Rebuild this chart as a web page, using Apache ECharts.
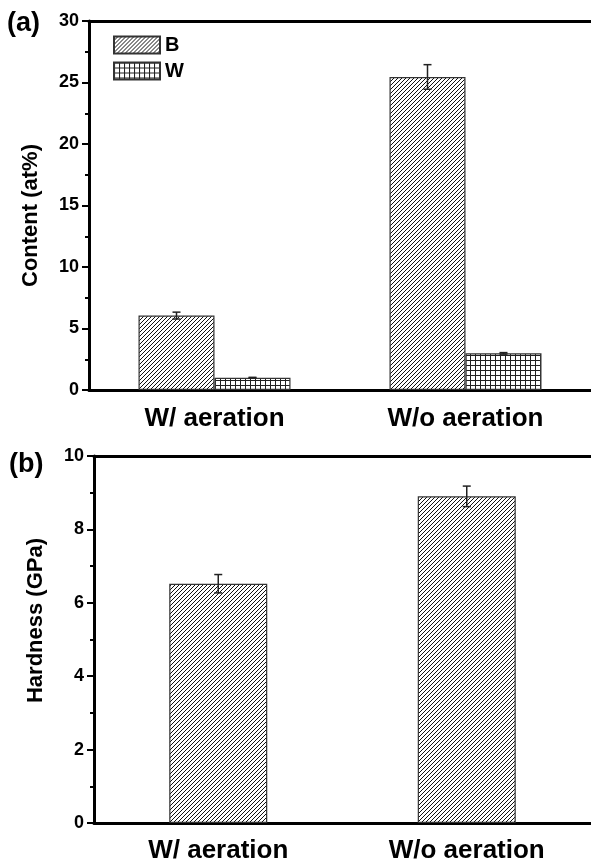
<!DOCTYPE html>
<html lang="en">
<head>
  <meta charset="UTF-8" />
  <title>Content and hardness</title>
  <script src="https://cdn.jsdelivr.net/npm/echarts@6/dist/echarts.min.js"></script>
  <style>
    html, body { margin: 0; padding: 0; background: #fff; }
    #main { width: 591px; height: 864px; }
  </style>
</head>
<body>
  <div id="main"></div>
  <script type="text/javascript">
    // data
    var categories = ['W/ aeration', 'W/o aeration']
    var contentB = [6.05, 25.45]
    var contentBErr = [0.28, 1.0]
    var contentW = [1.0, 2.98]
    var contentWErr = [0.03, 0.06]
    var hardness = [6.52, 8.9]
    var hardnessErr = [0.25, 0.28]
    // y axis ranges: [min, max, step]
    var contentAxis = [0, 30, 5]
    var hardnessAxis = [0, 10, 2]

    var font = 'Liberation Sans, Arial, sans-serif'
    var myChart = echarts.init(document.getElementById('main'))

    // diagonal hatching "/"
    function hatch(size) {
      var c = document.createElement('canvas')
      c.width = c.height = size
      var ctx = c.getContext('2d')
      ctx.fillStyle = '#fff'
      ctx.fillRect(0, 0, size, size)
      ctx.strokeStyle = '#111'
      ctx.lineWidth = 1
      ctx.beginPath()
      ctx.moveTo(-1, size + 1); ctx.lineTo(size + 1, -1)
      ctx.moveTo(-1, 1); ctx.lineTo(1, -1)
      ctx.moveTo(size - 1, size + 1); ctx.lineTo(size + 1, size - 1)
      ctx.stroke()
      return c
    }
    // square grid
    function squares(size) {
      var c = document.createElement('canvas')
      c.width = c.height = size
      var ctx = c.getContext('2d')
      ctx.fillStyle = '#fff'
      ctx.fillRect(0, 0, size, size)
      ctx.fillStyle = '#222'
      ctx.fillRect(0, 0, size, 1)
      ctx.fillRect(0, 0, 1, size)
      return c
    }

    function errorItem(offset) {
      return function (params, api) {
        var x = api.value(0), y = api.value(1), e = api.value(2)
        var hi = api.coord([x, y + e])
        var lo = api.coord([x, y - e])
        var cx = hi[0] + offset
        var st = { stroke: '#222', lineWidth: 1.5 }
        return {
          type: 'group',
          children: [
            { type: 'line', shape: { x1: cx, y1: hi[1], x2: cx, y2: lo[1] }, style: st },
            { type: 'line', shape: { x1: cx - 4, y1: hi[1], x2: cx + 4, y2: hi[1] }, style: st },
            { type: 'line', shape: { x1: cx - 4, y1: lo[1], x2: cx + 4, y2: lo[1] }, style: st }
          ]
        }
      }
    }
    function errData(vals, errs) {
      return vals.map(function (v, i) { return [i, v, errs[i]] })
    }

    var axisLine = { show: true, lineStyle: { color: '#000', width: 3 } }

    function bottomAxis(g, margin) {
      return {
        type: 'category', gridIndex: g, data: categories,
        axisLine: axisLine, axisTick: { show: false },
        axisLabel: { fontSize: 26, fontWeight: 'bold', color: '#000', margin: margin, fontFamily: font }
      }
    }
    function topAxis(g) {
      return {
        type: 'category', gridIndex: g, data: categories, position: 'top',
        axisLine: axisLine, axisTick: { show: false }, axisLabel: { show: false }
      }
    }
    function leftAxis(g, range, name, pad, minorSplit) {
      return {
        type: 'value', gridIndex: g, min: range[0], max: range[1], interval: range[2],
        name: name, nameLocation: 'middle', nameGap: 47, nameRotate: 90,
        nameTextStyle: { fontSize: 22, fontWeight: 'bold', color: '#000', fontFamily: font, padding: pad },
        axisLine: axisLine,
        axisTick: { show: true, length: 7, lineStyle: { color: '#000', width: 2 } },
        minorTick: { show: true, splitNumber: minorSplit, length: 4, lineStyle: { color: '#000', width: 2 } },
        splitLine: { show: false },
        axisLabel: { fontSize: 18, fontWeight: 'bold', color: '#000', margin: 10, fontFamily: font }
      }
    }

    var barStyleB = { color: { image: hatch(4), repeat: 'repeat' }, borderColor: '#333', borderWidth: 1.2 }
    var barStyleW = { color: { image: squares(5), repeat: 'repeat' }, borderColor: '#333', borderWidth: 1.2 }

    var option = {
      animation: false,
      backgroundColor: '#fff',
      textStyle: { fontFamily: font },
      title: [
        { text: '(a)', left: 7, top: 10, padding: 0, textStyle: { fontSize: 27, fontWeight: 'bold', color: '#000', fontFamily: font } },
        { text: '(b)', left: 9, top: 451, padding: 0, textStyle: { fontSize: 27, fontWeight: 'bold', color: '#000', fontFamily: font } }
      ],
      legend: {
        data: ['B', 'W'], orient: 'vertical', left: 113, top: 35, padding: 0,
        itemWidth: 46, itemHeight: 17, itemGap: 6, icon: 'rect',
        textStyle: { fontSize: 20, fontWeight: 'bold', color: '#000', fontFamily: font }
      },
      grid: [
        { left: 89, right: 0, top: 21, height: 369 },
        { left: 94, right: 0, top: 456, height: 368 }
      ],
      xAxis: [bottomAxis(0, 16), topAxis(0), bottomAxis(1, 15), topAxis(1)],
      yAxis: [
        leftAxis(0, contentAxis, 'Content (at%)', [0, 20, 0, 0], 2),
        leftAxis(1, hardnessAxis, 'Hardness (GPa)', [0, 0, 0, 38], 2)
      ],
      series: [
        { name: 'B', type: 'bar', xAxisIndex: 0, yAxisIndex: 0, data: contentB, barWidth: 76, barGap: '0%', itemStyle: barStyleB },
        { name: 'W', type: 'bar', xAxisIndex: 0, yAxisIndex: 0, data: contentW, barWidth: 76, barGap: '0%', itemStyle: barStyleW },
        { type: 'custom', xAxisIndex: 0, yAxisIndex: 0, z: 5, renderItem: errorItem(-38), data: errData(contentB, contentBErr) },
        { type: 'custom', xAxisIndex: 0, yAxisIndex: 0, z: 5, renderItem: errorItem(38), data: errData(contentW, contentWErr) },
        { name: 'Hardness', type: 'bar', xAxisIndex: 2, yAxisIndex: 1, data: hardness, barWidth: 98, itemStyle: barStyleB },
        { type: 'custom', xAxisIndex: 2, yAxisIndex: 1, z: 5, renderItem: errorItem(0), data: errData(hardness, hardnessErr) }
      ]
    }

    myChart.setOption(option)
  </script>
</body>
</html>
